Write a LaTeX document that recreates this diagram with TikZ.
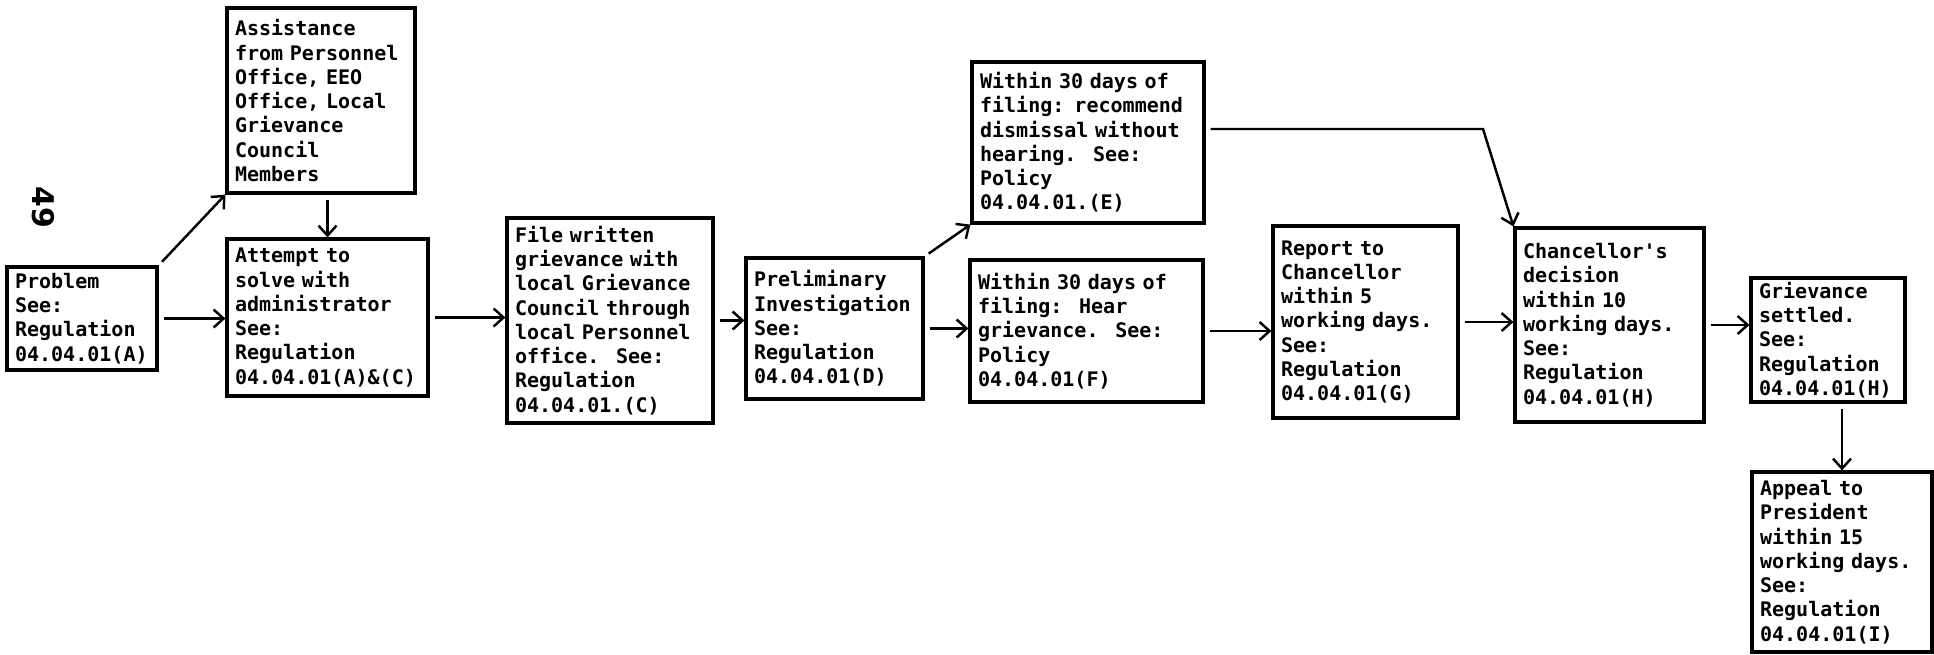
\documentclass[tikz,border=0pt]{standalone}
\usepackage{fontspec}
\setmonofont{DejaVu Sans Mono}
\setsansfont{DejaVu Sans}
\usetikzlibrary{arrows.meta}

\begin{document}
\begin{tikzpicture}[
    every node/.style={font=\ttfamily\bfseries\fontsize{5.7}{6.9}\selectfont},
    stepbox/.style={draw, line width=0.9pt, align=left,
        inner xsep=0.08cm, inner ysep=0pt},
    flow/.style={line width=0.7pt, shorten <=0.05cm,
        -{Straight Barb[length=1mm,width=1.8mm]}}]
  \useasboundingbox (0,0) rectangle (19.34,6.54);

  % page number in the margin
  \node[font=\sffamily\bfseries\fontsize{8.5}{9}\selectfont, rotate=-90] (pageno) at (0.43,4.47) {49};

  % boxes, left to right
  \node[stepbox, text width=1.34cm, minimum height=1.03cm] (problem) at (0.82,3.355)
    {Problem\\See:\\Regulation\\04.04.01(A)};
  \node[stepbox, text width=1.72cm, minimum height=1.85cm] (assist) at (3.21,5.535)
    {Assistance\\from Personnel\\Office, EEO\\Office, Local\\Grievance\\Council\\Members};
  \node[stepbox, text width=1.85cm, minimum height=1.57cm] (attempt) at (3.275,3.365)
    {Attempt to\\solve with\\administrator\\See:\\Regulation\\04.04.01(A)\&(C)};
  \node[stepbox, text width=1.90cm, minimum height=2.05cm] (file) at (6.10,3.335)
    {File written\\grievance with\\local Grievance\\Council through\\local Personnel\\office.~ See:\\Regulation\\04.04.01.(C)};
  \node[stepbox, text width=1.61cm, minimum height=1.41cm] (prelim) at (8.345,3.255)
    {Preliminary\\Investigation\\See:\\Regulation\\04.04.01(D)};
  \node[stepbox, text width=2.16cm, minimum height=1.61cm] (dismiss) at (10.88,5.115)
    {Within 30 days of\\filing: recommend\\dismissal without\\hearing.~ See:\\Policy\\04.04.01.(E)};
  \node[stepbox, text width=2.17cm, minimum height=1.42cm] (hear) at (10.865,3.23)
    {Within 30 days of\\filing:~ Hear\\grievance.~ See:\\Policy\\04.04.01(F)};
  \node[stepbox, text width=1.69cm, minimum height=1.92cm] (report) at (13.655,3.32)
    {Report to\\Chancellor\\within 5\\working days.\\See:\\Regulation\\04.04.01(G)};
  \node[stepbox, text width=1.73cm, minimum height=1.94cm] (chanc) at (16.095,3.29)
    {Chancellor's\\decision\\within 10\\working days.\\See:\\Regulation\\04.04.01(H)};
  \node[stepbox, text width=1.38cm, minimum height=1.24cm] (settled) at (18.28,3.14)
    {Grievance\\settled.\\See:\\Regulation\\04.04.01(H)};
  \node[stepbox, text width=1.64cm, minimum height=1.80cm] (appeal) at (18.42,0.92)
    {Appeal to\\President\\within 15\\working days.\\See:\\Regulation\\04.04.01(I)};

  % connectors
  \coordinate (bend) at (14.83,5.25);
  \draw[flow] (problem.north east) -- (assist.south west);
  \draw[flow] (problem.east) -- (problem.east -| attempt.west);
  \draw[flow] (assist.south -| attempt.north) -- (attempt.north);
  \draw[flow] (attempt.east) -- (attempt.east -| file.west);
  \draw[flow] (file.east) -- (file.east -| prelim.west);
  \draw[flow] (prelim.north east) -- (dismiss.south west);
  \draw[flow] (prelim.east) -- (prelim.east -| hear.west);
  \draw[flow] (hear.east) -- (hear.east -| report.west);
  \draw[flow] (dismiss.east |- bend) -- (bend) -- (chanc.north west);
  \draw[flow] (report.east) -- (report.east -| chanc.west);
  \draw[flow] (chanc.east) -- (chanc.east -| settled.west);
  \draw[flow] (appeal.north |- settled.south) -- (appeal.north);
\end{tikzpicture}
\end{document}
